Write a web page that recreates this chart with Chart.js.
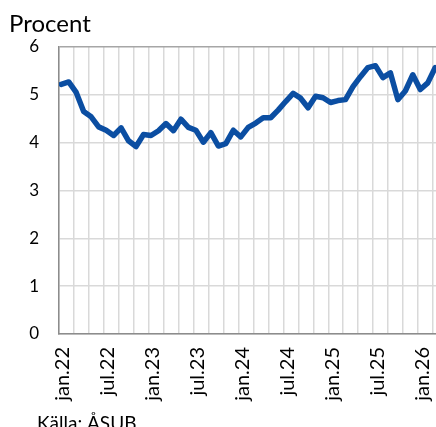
<!DOCTYPE html>
<html>
<head>
<meta charset="utf-8">
<script src="https://cdn.jsdelivr.net/npm/chart.js@4"></script>
<style>
  html, body { margin: 0; padding: 0; background: #fff; overflow: hidden; }
</style>
</head>
<body>
<canvas id="chart" width="436" height="427"></canvas>
<script>
// Månadsdata jan.22 - mar.26 (procent)
const tickLabels = ['jan.22', 'jul.22', 'jan.23', 'jul.23', 'jan.24', 'jul.24', 'jan.25', 'jul.25', 'jan.26'];
const values = [
  5.22, 5.27, 5.05, 4.65, 4.54, 4.33, 4.26, 4.15, 4.31, 4.04, 3.92, 4.17,
  4.15, 4.25, 4.40, 4.25, 4.49, 4.32, 4.26, 4.01, 4.21, 3.93, 3.98, 4.26,
  4.12, 4.32, 4.41, 4.52, 4.52, 4.68, 4.86, 5.03, 4.93, 4.73, 4.97, 4.94,
  4.84, 4.88, 4.90, 5.17, 5.38, 5.57, 5.61, 5.36, 5.46, 4.90, 5.08, 5.42,
  5.11, 5.25, 5.57
];
const dayOffset = 0.3; // mätningen ligger en bit in i månaden
const yTicks = [0, 1, 2, 3, 4, 5, 6];

const points = values.map((v, i) => ({ x: i + dayOffset, y: v }));
const font = 'Lato';

const textPlugin = {
  id: 'texts',
  afterDraw(chart) {
    const ctx = chart.ctx;
    ctx.save();
    ctx.fillStyle = '#000';
    ctx.textBaseline = 'alphabetic';
    ctx.font = '24px ' + font;
    ctx.fillText('Procent', 9, 32);
    ctx.font = '19px ' + font;
    ctx.fillText('Källa: ÅSUB', 37, 430);
    ctx.restore();
  }
};

new Chart(document.getElementById('chart'), {
  type: 'line',
  data: {
    datasets: [{
      data: points,
      borderColor: '#0b4ea2',
      borderWidth: 5.5,
      borderJoinStyle: 'round',
      borderCapStyle: 'round',
      pointRadius: 0,
      tension: 0
    }]
  },
  options: {
    responsive: false,
    animation: false,
    layout: { padding: { left: 11, right: 0, top: 47, bottom: 0 } },
    plugins: { legend: { display: false }, tooltip: { enabled: false } },
    scales: {
      x: {
        type: 'linear',
        min: 0,
        max: 50.4,
        afterBuildTicks: function(scale) {
          const t = [];
          for (let m = 0; m <= 50; m += 2) t.push({ value: m });
          scale.ticks = t;
        },
        afterFit: function(scale) {
          scale.height = 93;
          scale.paddingLeft = 0;
          scale.paddingRight = 0;
        },
        grid: { color: '#d9d9d9', lineWidth: 1.5, drawTicks: false },
        border: { color: '#8c8c8c', width: 1.5 },
        ticks: {
          autoSkip: false,
          maxRotation: 90,
          minRotation: 90,
          padding: 13,
          labelOffset: 4,
          color: '#000',
          font: { family: font, size: 20 },
          callback: function(value) {
            return value % 6 === 0 ? tickLabels[value / 6] : '';
          }
        }
      },
      y: {
        min: 0,
        max: 6,
        afterBuildTicks: function(scale) {
          scale.ticks = yTicks.map(v => ({ value: v }));
        },
        afterFit: function(scale) {
          scale.width = 48;
          scale.paddingTop = 0;
          scale.paddingBottom = 0;
        },
        grid: {
          color: ctx => ctx.tick && ctx.tick.value === 6 ? '#a6a6a6' : '#d9d9d9',
          lineWidth: 1.5,
          drawTicks: false
        },
        border: { color: '#8c8c8c', width: 1.5 },
        ticks: {
          padding: 20,
          color: '#000',
          font: { family: font, size: 17 }
        }
      }
    }
  },
  plugins: [textPlugin]
});
</script>
</body>
</html>
